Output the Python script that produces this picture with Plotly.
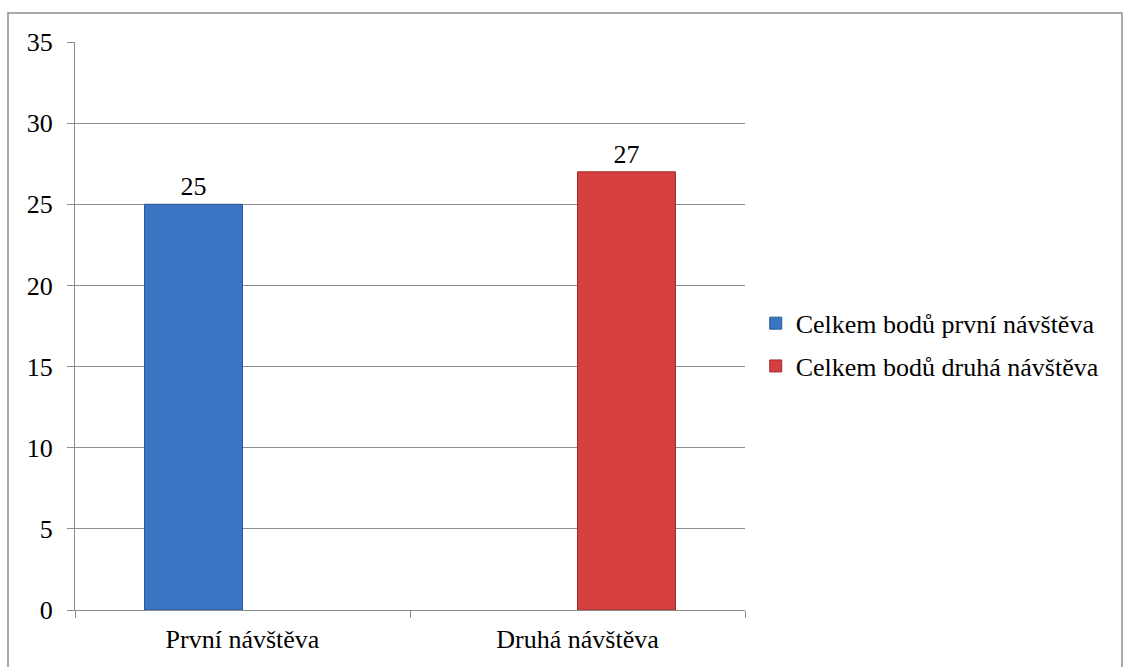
import plotly.graph_objects as go

categories = ["První návštěva", "Druhá návštěva"]
series_names = ["Celkem bodů první návštěva", "Celkem bodů druhá návštěva"]
first_visit = [25, None]
second_visit = [None, 27]
y_ticks = [0, 5, 10, 15, 20, 25, 30, 35]

FONT = "'Times New Roman', 'Liberation Serif', 'DejaVu Serif', serif"
FS = 26
GRID = "#8c8c8c"

fig = go.Figure()
fig.add_trace(go.Bar(
    x=categories, y=first_visit, name=series_names[0], legendgroup="g1",
    marker=dict(color="#3a74c2", line=dict(color="#2a5a99", width=1)),
    text=[str(v) if v is not None else "" for v in first_visit],
    textposition="outside", cliponaxis=False,
    textfont=dict(family=FONT, size=FS, color="#000000"),
))
fig.add_trace(go.Bar(
    x=categories, y=second_visit, name=series_names[1], legendgroup="g2",
    marker=dict(color="#d63f3f", line=dict(color="#a02c2c", width=1)),
    text=[str(v) if v is not None else "" for v in second_visit],
    textposition="outside", cliponaxis=False,
    textfont=dict(family=FONT, size=FS, color="#000000"),
))

fig.update_layout(
    width=1131, height=667,
    margin=dict(l=75, r=386, t=42, b=57),
    paper_bgcolor="white", plot_bgcolor="white",
    barmode="group", bargap=0.415, bargroupgap=0,
    font=dict(family=FONT, size=FS, color="#000000"),
    showlegend=True,
    legend=dict(x=1.016, y=0.467, xanchor="left", yanchor="middle",
                font=dict(family=FONT, size=FS), bgcolor="rgba(0,0,0,0)",
                tracegroupgap=6),
    xaxis=dict(
        showline=True, linecolor=GRID, linewidth=1,
        ticks="outside", ticklen=7, tickcolor=GRID, tickson="boundaries",
        showgrid=False, tickfont=dict(family=FONT, size=FS),
        ticklabelstandoff=6,
    ),
    yaxis=dict(
        range=[0, 35], tickvals=y_ticks,
        showline=True, linecolor=GRID, linewidth=1,
        ticks="outside", ticklen=7, tickcolor=GRID,
        showgrid=True, gridcolor=GRID, gridwidth=1,
        zeroline=False, ticklabelstandoff=9,
        tickfont=dict(family=FONT, size=FS),
    ),
    shapes=[dict(type="rect", xref="paper", yref="paper",
                 x0=-0.1, x1=1.5627, y0=-0.2, y1=1.051,
                 line=dict(color=GRID, width=1.5), fillcolor="rgba(0,0,0,0)",
                 layer="below")],
)

fig.write_html("out.html")
